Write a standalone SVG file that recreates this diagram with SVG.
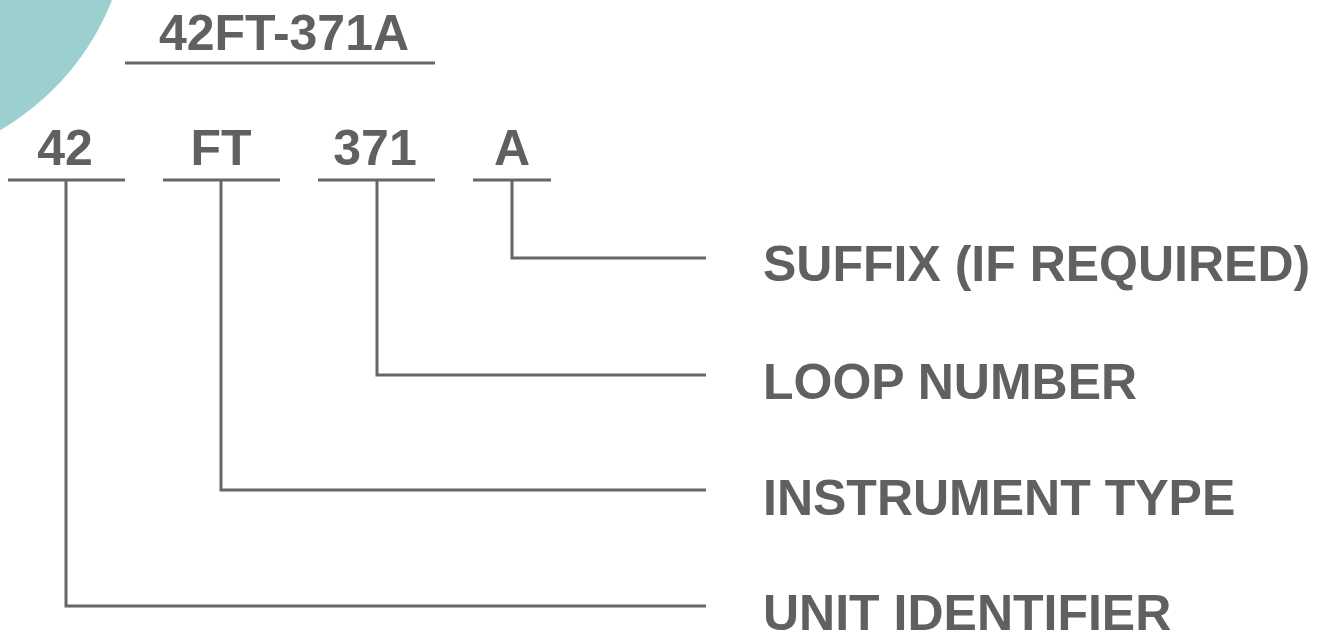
<svg xmlns="http://www.w3.org/2000/svg" width="1318" height="637" viewBox="0 0 1318 637">
<style>
.t{font-family:"Liberation Sans",Arial,sans-serif;font-weight:bold;font-size:50px;fill:#606060}
.m{text-anchor:middle}
.ln{stroke:#666666;stroke-width:3;fill:none;stroke-linecap:butt}
</style>
<rect width="1318" height="637" fill="#ffffff"/>
<circle cx="-130" cy="-95" r="260" fill="#9ccfd0"/>
<g id="title">
<text class="t m" x="284" y="50" font-size="51">42FT-371A</text>
<line class="ln" x1="125" y1="63" x2="435" y2="63"/>
</g>
<g id="seg-42">
<text class="t m" x="65" y="165">42</text>
<line class="ln" x1="8" y1="180" x2="125" y2="180"/>
</g>
<g id="seg-FT">
<text class="t m" x="221" y="165">FT</text>
<line class="ln" x1="163" y1="180" x2="280" y2="180"/>
</g>
<g id="seg-371">
<text class="t m" x="375" y="165">371</text>
<line class="ln" x1="318" y1="180" x2="435" y2="180"/>
</g>
<g id="seg-A">
<text class="t m" x="512" y="165">A</text>
<line class="ln" x1="473" y1="180" x2="551" y2="180"/>
</g>
<g id="label-suffix"><text class="t" x="763" y="281">SUFFIX (IF REQUIRED)</text></g>
<g id="label-loop"><text class="t" x="763" y="399">LOOP NUMBER</text></g>
<g id="label-instrument"><text class="t" x="763" y="515">INSTRUMENT TYPE</text></g>
<g id="label-unit"><text class="t" x="763" y="630">UNIT IDENTIFIER</text></g>
<g id="connectors">
<polyline class="ln" points="512,180 512,258 706,258"/>
<polyline class="ln" points="377,180 377,375 706,375"/>
<polyline class="ln" points="221,180 221,490 706,490"/>
<polyline class="ln" points="66,180 66,606 706,606"/>
</g>
</svg>
